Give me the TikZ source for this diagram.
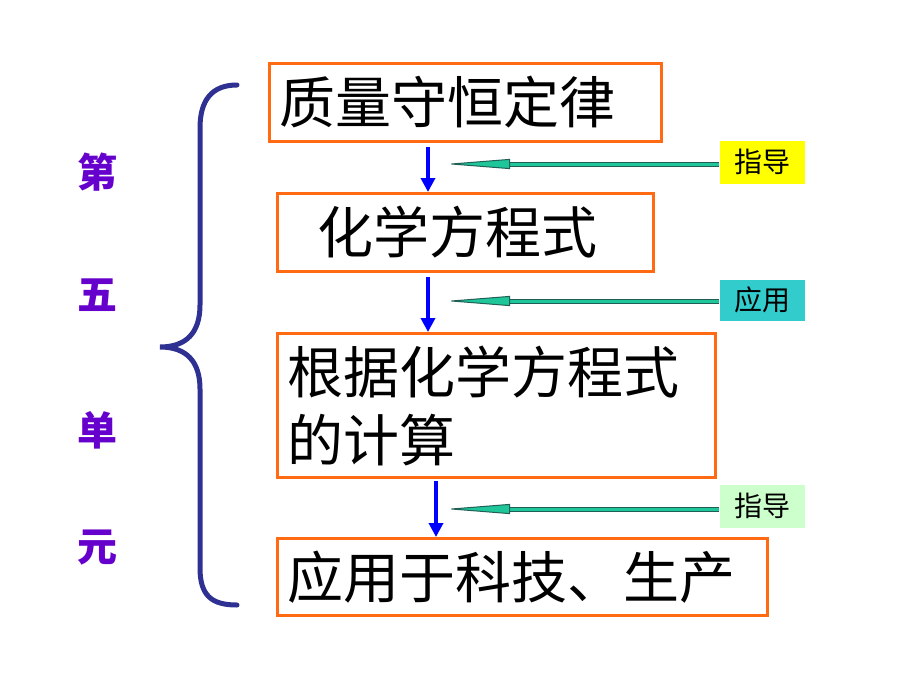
\documentclass[tikz,border=0pt]{standalone}
\usepackage{fontspec}
\setmainfont{Noto Sans CJK SC}
\usepackage{tikz}
\usetikzlibrary{arrows.meta, positioning, calc}
\definecolor{corange}{HTML}{FF6A13}
\definecolor{cblue}{HTML}{0000FF}
\definecolor{cbrace}{HTML}{2E3192}
\definecolor{cpurple}{HTML}{6600CC}
\definecolor{cteal}{HTML}{1FC69A}
\definecolor{cdark}{HTML}{1F5F55}
\definecolor{cyellow}{HTML}{FFFF00}
\definecolor{ccyan}{HTML}{33CCCC}
\definecolor{lightgreen}{HTML}{CCFFCC}

\begin{document}
\begin{tikzpicture}[x=1pt, y=-1pt,
  unitbox/.style={draw=corange, line width=3pt, anchor=north west, inner xsep=10pt,
    align=left, font=\fontsize{56}{68}\selectfont},
  tagbox/.style={minimum width=85pt, inner sep=0pt, font=\fontsize{28}{30}\selectfont},
  unitchar/.style={cpurple, font=\fontsize{40}{42}\selectfont\bfseries},
  flow/.style={cblue, line width=3.5pt, -{Triangle[length=14pt, width=14pt]}},
  guide/.style={cteal, line width=3pt, -{Triangle[length=65pt, width=10pt, line width=1pt, fill=cteal, color=cdark]}}]
  \useasboundingbox (0,0) rectangle (920,690);

  % chapter boxes
  \node[unitbox, text width=372pt, minimum height=78pt] (law) at (268,62) {质量守恒定律};
  \node[unitbox, text width=356pt, minimum height=78pt] (eqn) at (276,192) {\hspace{30pt}化学方程式};
  \node[unitbox, text width=418pt, minimum height=144pt] (calc) at (276,332) {根据化学方程式\\的计算};
  \node[unitbox, text width=470pt, minimum height=77pt] (use) at (276,537) {应用于科技、生产};

  % side tags
  \node[tagbox, fill=cyellow, minimum height=43pt] (tagA) at (762,162) {指导};
  \node[tagbox, fill=ccyan, minimum height=41pt] (tagB) at (762,300) {应用};
  \node[tagbox, fill=lightgreen, minimum height=43pt] (tagC) at (762,506) {指导};

  % arrow columns
  \coordinate (colA) at (428,0);
  \coordinate (colB) at (436,0);
  \draw[flow, shorten <=4pt] (law.south -| colA) -- (eqn.north -| colA);
  \draw[flow, shorten <=4pt] (eqn.south -| colA) -- (calc.north -| colA);
  \draw[flow, shorten <=2pt] (calc.south -| colB) -- (use.north -| colB);

  % guide arrows
  \coordinate (tipA) at (445,164);
  \coordinate (tipB) at (445,301);
  \coordinate (tipC) at (445,509);
  \foreach \t/\p in {tagA/tipA, tagB/tipB, tagC/tipC}{
    \draw[cdark, line width=5pt, shorten >=64pt] (\t.west |- \p) -- (\p);
    \draw[guide] (\t.west |- \p) -- (\p);
  }

  % brace
  \draw[cbrace, line width=5pt, line cap=round]
    (237,85) .. controls (212,85) and (200,100) .. (200,128) -- (200,305)
    .. controls (200,333) and (186,347) .. (160,347)
    .. controls (186,347) and (200,361) .. (200,389) -- (200,568)
    .. controls (200,596) and (212,605) .. (237,605);

  % unit title
  \node[unitchar] (c1) at (97,172) {第};
  \node[unitchar] (c2) at (97,295) {五};
  \node[unitchar] (c3) at (97,430) {单};
  \node[unitchar] (c4) at (97,548) {元};
\end{tikzpicture}
\end{document}
